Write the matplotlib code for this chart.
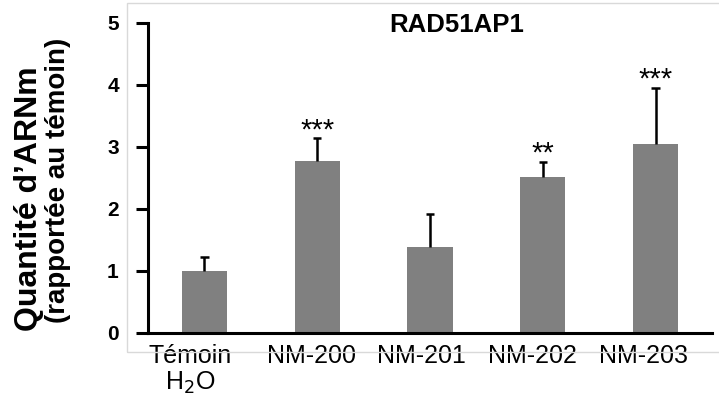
import matplotlib.pyplot as plt
import matplotlib.transforms as mtransforms
import numpy as np
from matplotlib.patches import Rectangle

# Quantité relative d'ARNm RAD51AP1 (moyenne + écart-type)
conditions = ['Témoin\nH$_2$O', 'NM-200', 'NM-201', 'NM-202', 'NM-203']
moyennes = [1.00, 2.77, 1.38, 2.51, 3.04]
ecarts = [0.23, 0.37, 0.54, 0.25, 0.91]
significativite = ['', '***', '', '**', '***']

plt.rcParams['font.family'] = ['Liberation Sans', 'DejaVu Sans']

fig = plt.figure(figsize=(7.19, 4.03), dpi=100)
ax = fig.add_axes([148 / 719, 1 - 333 / 403, 564 / 719, 310.3 / 403])

# cadre gris clair autour de la figure
fig.patches.append(Rectangle((127 / 719, 1 - 351.5 / 403), 1.0, 348.5 / 403,
                             transform=fig.transFigure, fill=False,
                             edgecolor='#d9d9d9', linewidth=1.0))

x = np.arange(len(conditions))
hauts = np.array(moyennes) + np.array(ecarts)
ax.bar(x, moyennes, width=0.4, color='#808080', zorder=2)
# barres d'erreur vers le haut seulement
ax.vlines(x, moyennes, hauts, colors='black', linewidth=1.8, zorder=3)
ax.hlines(hauts, x - 0.037, x + 0.037, colors='black', linewidth=1.8, zorder=3)

for xi, h, s in zip(x, hauts, significativite):
    if s:
        ax.text(xi, h, s, ha='center', va='baseline', fontsize=21)

ax.set_xlim(-0.5, 4.5)
ax.set_ylim(0, 5)
ax.set_yticks(range(6))
ax.set_xticks(x)
ax.set_xticklabels(conditions, fontsize=18, linespacing=1.1)
ax.tick_params(axis='x', length=0, pad=8)
ax.tick_params(axis='y', direction='out', length=9, width=2.2,
               color='black', labelsize=15, pad=12)
for lab in ax.get_yticklabels():
    lab.set_fontweight('bold')

# léger décalage des étiquettes vers la gauche
decalages = [-14, -6, -9, -10, -12]
for lab, dx in zip(ax.get_xticklabels(), decalages):
    lab.set_transform(lab.get_transform() +
                      mtransforms.ScaledTranslation(dx / 100, 0, fig.dpi_scale_trans))

for side in ['top', 'right']:
    ax.spines[side].set_visible(False)
ax.spines['left'].set_linewidth(2.2)
ax.spines['bottom'].set_linewidth(2.2)

fig.text(29 / 719, 1 - 199 / 403, 'Quantité d\u2019ARNm', rotation=90,
         ha='center', va='center', fontsize=23, fontweight='bold')
fig.text(58 / 719, 1 - 180 / 403, '(rapportée au témoin)', rotation=90,
         ha='center', va='center', fontsize=20, fontweight='bold')
ax.text(0.548, 1.031, 'RAD51AP1', transform=ax.transAxes, ha='center',
        va='top', fontsize=18.5, fontweight='bold')

fig.savefig('out.png', dpi=100)
